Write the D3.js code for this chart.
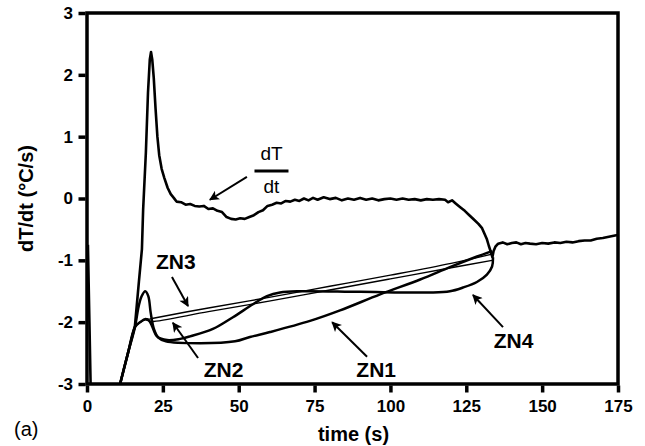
<!DOCTYPE html>
<html>
<head>
<meta charset="utf-8">
<script src="https://cdn.jsdelivr.net/npm/d3@7"></script>
<style>
  html, body { margin: 0; padding: 0; background: #fff; }
  svg { display: block; }
  text { font-family: "Liberation Sans", Arial, sans-serif; fill: #000; }
</style>
</head>
<body>
<svg id="chart" width="645" height="446"></svg>
<script>
// ---------- data ----------
const xTicks = [0, 25, 50, 75, 100, 125, 150, 175];
const yTicks = [-3, -2, -1, 0, 1, 2, 3];
const xLabel = "time (s)";
const yLabel = "dT/dt (°C/s)";

// measured cooling rate dT/dt  [time s, °C/s]
const dTdt = [
  [0.3,-0.75],[0.8,-2.0],[1.3,-3.3],[9.9,-3.3],[10.9,-3.0],[13.5,-2.5],[15.8,-2.06],
  [17.1,-1.35],[18.1,-0.82],[18.5,-0.18],[19.4,0.74],[20.1,1.71],[20.7,2.25],[21.1,2.37],
  [21.5,2.25],[22.0,1.95],[22.6,1.45],[23.2,1.0],[23.8,0.7],[24.6,0.48],[25.5,0.33],
  [26.6,0.17],[27.6,0.07],[28.6,0.01],[29.5,-0.05],[31,-0.06],
  [32.5,-0.1],[34,-0.09],[35.5,-0.12],[37,-0.13],[38.5,-0.12],[40,-0.17],[41.5,-0.16],
  [43,-0.2],[44.5,-0.22],[46,-0.3],[47.5,-0.33],[49,-0.34],[50.5,-0.32],[52,-0.33],
  [53.5,-0.3],[55,-0.27],[56.5,-0.22],[58,-0.19],[59.5,-0.12],[61,-0.1],[62.5,-0.07],
  [64,-0.08],[65.5,-0.04],[67,-0.05],[68.5,-0.02],[70,-0.04],[71.5,0.0],[73,-0.03],
  [74.5,0.01],[76,-0.02],[78,0.02],[80,-0.01],[82,0.01],[84,-0.03],[86,0.0],[88,-0.02],
  [90,0.01],[92,-0.02],[94,0.0],[96,-0.03],[98,-0.01],[100,0.0],[102,-0.02],[104,0.0],
  [106,-0.02],[108,-0.01],[110,-0.03],[112,-0.01],[114,-0.02],[116,-0.01],[118,-0.02],
  [119,-0.06],[120.3,-0.03],[121.5,-0.08],[123,-0.14],[124.5,-0.2],[126,-0.27],
  [127.5,-0.34],[129,-0.41],[130.2,-0.48],[131,-0.57],[131.8,-0.66],[132.4,-0.76],
  [133,-0.85],[133.6,-0.95],[134,-0.85],[134.6,-0.78],[135.5,-0.73],[137,-0.71],
  [138.5,-0.74],[140,-0.72],[141.5,-0.71],[143,-0.74],[144.5,-0.72],[146,-0.73],
  [148,-0.74],[150,-0.72],[152,-0.73],[154,-0.71],[156,-0.72],[158,-0.7],[160,-0.71],
  [162,-0.69],[164,-0.68],[166,-0.68],[168,-0.65],[170,-0.64],[172,-0.62],[174,-0.6],[175,-0.59]
];

// zero (baseline) curves
const ZN1 = [
  [10.9,-3.0],[13.5,-2.5],[15.8,-2.08],[17,-1.75],[18,-1.58],[19.2,-1.5],[20.2,-1.58],
  [21,-1.85],[22,-2.1],[23.5,-2.25],[26,-2.31],[37.2,-2.34],[48.8,-2.31],[53.7,-2.24],
  [60.3,-2.16],[73.5,-1.98],[83.4,-1.81],[96.6,-1.55],[109.8,-1.31],[119.6,-1.11],
  [127.9,-0.95],[133.5,-0.85]
];
const ZN4 = [
  [10.9,-3.0],[13.5,-2.5],[15.8,-2.08],[17.5,-2.0],[19.3,-1.95],[20.5,-1.98],[21.4,-2.06],
  [23.1,-2.23],[26.4,-2.29],[30.7,-2.27],[34,-2.23],[41.5,-2.11],[48.1,-1.92],[54.7,-1.71],
  [59.3,-1.58],[63.6,-1.52],[70.2,-1.5],[90,-1.51],[113,-1.52],[119.6,-1.5],[123.9,-1.44],
  [128.5,-1.35],[131.8,-1.23],[133.5,-1.1],[133.8,-0.95]
];
const ZN3 = [
  [10.9,-3.0],[13.5,-2.5],[15.8,-2.08],[17.5,-2.0],[19.3,-1.95],[20.5,-1.95],[21.4,-1.94],
  [40,-1.77],[60,-1.6],[80,-1.42],[100,-1.24],[120,-1.05],[133.5,-0.9]
];
const ZN2 = [
  [10.9,-3.0],[13.5,-2.5],[15.8,-2.08],[17.5,-2.0],[19.3,-1.96],[20.5,-1.98],[21.4,-1.99],
  [40,-1.83],[60,-1.66],[80,-1.48],[100,-1.3],[120,-1.12],[133.5,-1.0]
];

// annotation labels: text, label anchor (t, v), arrow from (t, v) to (t, v)
const zoneLabels = [
  { text: "ZN3", t: 29.3, v: -1.14, from: [28, -1.27], to: [33.3, -1.74] },
  { text: "ZN2", t: 45.0, v: -2.89, from: [36.6, -2.58], to: [28.3, -2.01] },
  { text: "ZN1", t: 95.3, v: -2.89, from: [92.3, -2.56], to: [80.8, -2.0] },
  { text: "ZN4", t: 140.6, v: -2.42, from: [137.1, -2.08], to: [127.2, -1.56] }
];
const rateLabel = { num: "dT", den: "dt", t: 60.8, v: 0.445, from: [52.7, 0.35], to: [40.5, -0.02] };
const panelTag = "(a)";

// ---------- chart ----------
const svg = d3.select("#chart");
const L = 87, R = 618, T = 13, B = 384;
const x = d3.scaleLinear().domain([0, 175]).range([L, R]);
const y = d3.scaleLinear().domain([-3, 3]).range([B, T]);

const defs = svg.append("defs");
defs.append("clipPath").attr("id", "plotclip")
  .append("rect").attr("x", L).attr("y", T).attr("width", R - L).attr("height", B - T);
defs.append("marker").attr("id", "arrow")
  .attr("viewBox", "0 0 10 10").attr("refX", 9).attr("refY", 5)
  .attr("markerWidth", 11).attr("markerHeight", 10)
  .attr("markerUnits", "userSpaceOnUse").attr("orient", "auto")
  .append("path").attr("d", "M0,0 L10,5 L0,10 L2.5,5 Z").attr("fill", "#000");

const plot = svg.append("g").attr("clip-path", "url(#plotclip)");
const line = d3.line().x(d => x(d[0])).y(d => y(d[1]));
const smooth = d3.line().x(d => x(d[0])).y(d => y(d[1])).curve(d3.curveCatmullRom.alpha(0.5));

plot.append("path").datum(ZN3).attr("d", smooth).attr("fill", "none").attr("stroke", "#000").attr("stroke-width", 1.4);
plot.append("path").datum(ZN2).attr("d", smooth).attr("fill", "none").attr("stroke", "#000").attr("stroke-width", 1.4);
plot.append("path").datum(ZN1).attr("d", smooth).attr("fill", "none").attr("stroke", "#000").attr("stroke-width", 2.5);
plot.append("path").datum(ZN4).attr("d", smooth).attr("fill", "none").attr("stroke", "#000").attr("stroke-width", 2.5);
plot.append("path").datum(dTdt).attr("d", line).attr("fill", "none").attr("stroke", "#000")
  .attr("stroke-width", 2.6).attr("stroke-linejoin", "round");

// frame
svg.append("rect").attr("x", L).attr("y", T).attr("width", R - L).attr("height", B - T)
  .attr("fill", "none").attr("stroke", "#000").attr("stroke-width", 3.5);

// axes
const xAxis = svg.append("g").attr("transform", `translate(0,${B + 1.5})`)
  .call(d3.axisBottom(x).tickValues(xTicks).tickSize(7).tickPadding(7.5).tickFormat(d3.format("d")));
const yAxis = svg.append("g").attr("transform", `translate(${L - 1.5},0)`)
  .call(d3.axisLeft(y).tickValues(yTicks).tickSize(7).tickPadding(5.5).tickFormat(d => d < 0 ? "-" + Math.abs(d) : String(d)));
[xAxis, yAxis].forEach(g => {
  g.select(".domain").remove();
  g.selectAll(".tick line").attr("stroke", "#000").attr("stroke-width", 3.5);
  g.selectAll(".tick text").attr("font-size", 17).attr("font-weight", "bold")
    .attr("font-family", "'Liberation Sans', Arial, sans-serif").attr("fill", "#000");
});

// axis titles
svg.append("text").attr("x", (L + R) / 2 + 1).attr("y", 441).attr("text-anchor", "middle")
  .attr("font-size", 20).attr("font-weight", "bold").text(xLabel);
svg.append("text").attr("transform", `translate(33,${(T + B) / 2}) rotate(-90)`)
  .attr("text-anchor", "middle").attr("font-size", 20).attr("font-weight", "bold").text(yLabel);

// panel tag
svg.append("text").attr("x", 14).attr("y", 436).attr("font-size", 20).text(panelTag);

// zone labels with arrows
zoneLabels.forEach(d => {
  svg.append("line")
    .attr("x1", x(d.from[0])).attr("y1", y(d.from[1]))
    .attr("x2", x(d.to[0])).attr("y2", y(d.to[1]))
    .attr("stroke", "#000").attr("stroke-width", 2).attr("marker-end", "url(#arrow)");
  svg.append("text").attr("x", x(d.t)).attr("y", y(d.v)).attr("text-anchor", "middle")
    .attr("font-size", 21).attr("font-weight", "bold").text(d.text);
});

// dT/dt fraction label
const fx = x(rateLabel.t), fy = y(rateLabel.v);
svg.append("text").attr("x", fx).attr("y", fy - 11).attr("text-anchor", "middle")
  .attr("font-size", 19).text(rateLabel.num);
svg.append("line").attr("x1", fx - 17).attr("x2", fx + 17).attr("y1", fy).attr("y2", fy)
  .attr("stroke", "#000").attr("stroke-width", 3);
svg.append("text").attr("x", fx).attr("y", fy + 22).attr("text-anchor", "middle")
  .attr("font-size", 19).text(rateLabel.den);
svg.append("line")
  .attr("x1", x(rateLabel.from[0])).attr("y1", y(rateLabel.from[1]))
  .attr("x2", x(rateLabel.to[0])).attr("y2", y(rateLabel.to[1]))
  .attr("stroke", "#000").attr("stroke-width", 2).attr("marker-end", "url(#arrow)");
</script>
</body>
</html>
